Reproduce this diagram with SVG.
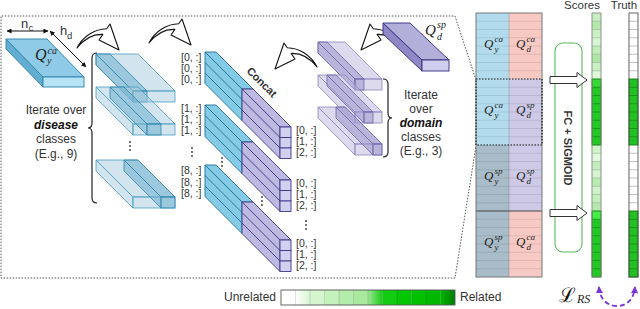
<svg xmlns="http://www.w3.org/2000/svg" width="640" height="309" viewBox="0 0 640 309">
<defs>
<style>
.t{font-family:"Liberation Sans",Arial,sans-serif;fill:#333}
.m{font-family:"Liberation Serif","Times New Roman",serif;font-style:italic;fill:#222}
.idx{font-size:10.5px}
.lbl{font-size:12px}
.bi{font-weight:bold;font-style:italic;fill:#111}
.dt{fill:#333}
.cv{fill:#fff;stroke:#111;stroke-width:1.1;stroke-linejoin:round}
.dsl{fill:#a6cadb;fill-opacity:.5;stroke:#4b9dc2;stroke-width:.8}
.dsc{fill:#6fb0d0;fill-opacity:.55;stroke:#3487ad;stroke-width:.8}
.msl{fill:#b9b5d9;fill-opacity:.5;stroke:#8a85c0;stroke-width:.8}
.msc{fill:#9c97cc;fill-opacity:.55;stroke:#6e68ad;stroke-width:.8}
.cb{fill:#86cbe6;stroke:#1f6f96;stroke-width:.9}
.cl{fill:#bdb9e0;stroke:#3e3888;stroke-width:.9}
.cf{fill:#d2d0ef;stroke:#3e3888;stroke-width:.9}
.rows{stroke:#000;stroke-opacity:.13;stroke-width:.7;fill:none}
</style>
<path id="cva" d="M0,22 C6,10 18,3 29.7,2.8 L33,-2 L42,24 L22,14 L25.85,8.4 C16,8 7,13 0,22 Z"/>
<g id="dslab">
<polygon points="0,0 42,0 79,37 37,37"/>
<polygon points="0,0 37,37 37,48 0,11"/>
<rect x="37" y="37" width="42" height="11"/>
</g>
<g id="dslice">
<polygon points="0,0 14,0 51,37 37,37"/>
<polygon points="0,0 37,37 37,48 0,11"/>
<rect x="37" y="37" width="14" height="11"/>
</g>
<g id="mslab">
<polygon points="0,0 27,0 64,37 37,37"/>
<polygon points="0,0 37,37 37,48 0,11"/>
<rect x="37" y="37" width="27" height="11"/>
</g>
<g id="mslice">
<polygon points="0,0 9,0 46,37 37,37"/>
<polygon points="0,0 37,37 37,48 0,11"/>
<rect x="37" y="37" width="9" height="11"/>
</g>
<g id="cstack">
<polygon class="cb" points="0,0 37,37 37,68.5 0,31.5"/>
<polygon class="cb" points="0,0 11,0 48,37 37,37"/>
<path d="M0,10.5 L37,47.5 M0,21 L37,58" stroke="#1f6f96" stroke-width=".9"/>
<polygon class="cl" points="37,37 75,75 75,106.5 37,68.5"/>
<polygon class="cl" points="37,37 48,37 86,75 75,75"/>
<path d="M37,47.5 L75,85.5 M37,58 L75,96" stroke="#3e3888" stroke-width=".9"/>
<rect class="cf" x="75" y="75" width="11" height="10.5"/>
<rect class="cf" x="75" y="85.5" width="11" height="10.5"/>
<rect class="cf" x="75" y="96" width="11" height="10.5"/>
</g>
<marker id="ah" viewBox="0 0 6 6" refX="5.5" refY="3" markerWidth="5" markerHeight="5" orient="auto-start-reverse"><path d="M0,0 L6,3 L0,6 Z" fill="#111"/></marker>
<marker id="pa" viewBox="0 0 8 8" refX="7" refY="4" markerWidth="4" markerHeight="4" orient="auto-start-reverse"><path d="M0,0 L8,4 L0,8 Z" fill="#7b35d8"/></marker>
<linearGradient id="lg2" x1="0" x2="1"><stop offset="0" stop-color="#ffffff"/><stop offset="1" stop-color="#d6f5d0"/></linearGradient>
<linearGradient id="lg7" x1="0" x2="1"><stop offset="0" stop-color="#9ee698"/><stop offset="1" stop-color="#14cc14"/></linearGradient>
<linearGradient id="lg12" x1="0" x2="1"><stop offset="0" stop-color="#00b800"/><stop offset="1" stop-color="#007a00"/></linearGradient>
</defs>

<!-- dotted expansion frame -->
<g id="frame" fill="none" stroke="#555" stroke-width="1" stroke-dasharray="1.5,1.5">
<path d="M476,80 L455,16 H1 V278 H455 L476,146"/>
</g>

<!-- Q_y^ca slab -->
<g id="qyca">
<polygon points="6,39 43,77 43,87 6,49" fill="#63aed0" stroke="#2b83ab" stroke-width=".9"/>
<polygon points="6,39 47,39 84,77 43,77" fill="#8fcbe6" stroke="#2b83ab" stroke-width=".9"/>
<rect x="43" y="77" width="41" height="10" fill="#b6e2f5" stroke="#2b83ab" stroke-width=".9"/>
<text class="m" x="35" y="60" font-size="16">Q</text>
<text class="m" x="47.5" y="54" font-size="10">ca</text>
<text class="m" x="47" y="64" font-size="10">y</text>
</g>

<g id="dims">
<line x1="7" y1="31" x2="48" y2="31" stroke="#111" stroke-width="1" marker-start="url(#ah)" marker-end="url(#ah)"/>
<line x1="50" y1="31" x2="86" y2="67" stroke="#111" stroke-width="1" marker-start="url(#ah)" marker-end="url(#ah)"/>
<text class="t" x="21" y="28" font-size="13">n</text>
<text class="t" x="28.5" y="31" font-size="9.5">c</text>
<text class="t" x="60" y="35" font-size="13">h</text>
<text class="t" x="67" y="39" font-size="9.5">d</text>
</g>

<!-- curved arrows -->
<g id="curved-arrows">
<use href="#cva" class="cv" transform="translate(77,26)"/>
<use href="#cva" class="cv" transform="translate(149,21)"/>
<use href="#cva" class="cv" transform="translate(317,45) scale(-1,1)"/>
<use href="#cva" class="cv" transform="translate(403,26) scale(-1,1)"/>
</g>

<!-- disease iteration -->
<g id="disease-iter">
<path d="M97,53 Q92,53 92,58 V123 Q92,128 88,128 Q92,128 92,133 V198 Q92,203 97,203" fill="none" stroke="#222" stroke-width="1.2"/>
<g transform="translate(96,54)"><use href="#dslab" class="dsl"/><use href="#dslice" class="dsc"/></g>
<g transform="translate(96,87)"><use href="#dslab" class="dsl"/><use href="#dslice" class="dsc" x="14"/></g>
<g transform="translate(96,160)"><use href="#dslab" class="dsl"/><use href="#dslice" class="dsc" x="28"/></g>
<circle class="dt" cx="130" cy="142" r=".9"/><circle class="dt" cx="130" cy="146" r=".9"/><circle class="dt" cx="130" cy="150" r=".9"/>
<text class="t lbl" x="56" y="114" text-anchor="middle">Iterate over</text>
<text class="t lbl bi" x="56" y="128.5" text-anchor="middle">disease</text>
<text class="t lbl" x="56" y="143" text-anchor="middle">classes</text>
<text class="t lbl" x="56" y="157.5" text-anchor="middle">(E.g., 9)</text>
</g>

<g id="disease-index" class="t idx">
<text x="181" y="61">[0, :]</text><text x="181" y="72">[0, :]</text><text x="181" y="83">[0, :]</text>
<text x="181" y="112">[1, :]</text><text x="181" y="123">[1, :]</text><text x="181" y="134">[1, :]</text>
<text x="181" y="174">[8, :]</text><text x="181" y="185.5">[8, :]</text><text x="181" y="197">[8, :]</text>
</g>
<g id="disease-index-dots">
<circle class="dt" cx="192" cy="148" r=".9"/><circle class="dt" cx="192" cy="152" r=".9"/><circle class="dt" cx="192" cy="156" r=".9"/>
</g>

<!-- concatenated stacks -->
<g id="concat">
<use href="#cstack" transform="translate(205,52)"/>
<use href="#cstack" transform="translate(205,105)"/>
<use href="#cstack" transform="translate(205,165)"/>
<text class="t" x="262" y="86" font-size="11" font-weight="bold" fill="#111" text-anchor="middle" transform="rotate(45 262 82)">Concat</text>
<circle class="dt" cx="222" cy="158" r=".9"/><circle class="dt" cx="222" cy="162" r=".9"/><circle class="dt" cx="222" cy="166" r=".9"/>
<circle class="dt" cx="262" cy="197" r=".9"/><circle class="dt" cx="262" cy="201" r=".9"/><circle class="dt" cx="262" cy="205" r=".9"/>
<circle class="dt" cx="306" cy="221" r=".9"/><circle class="dt" cx="306" cy="225" r=".9"/><circle class="dt" cx="306" cy="229" r=".9"/>
</g>
<g id="concat-index" class="t idx">
<text x="296" y="134">[0, :]</text><text x="296" y="145">[1, :]</text><text x="296" y="156">[2, :]</text>
<text x="296" y="187">[0, :]</text><text x="296" y="198">[1, :]</text><text x="296" y="209">[2, :]</text>
<text x="296" y="247">[0, :]</text><text x="296" y="258">[1, :]</text><text x="296" y="269">[2, :]</text>
</g>

<!-- Q_d^sp slab -->
<g id="qdsp">
<polygon points="383,23 422,60 422,71 383,34" fill="#8e89c4" stroke="#2f2a7a" stroke-width=".9"/>
<polygon points="383,23 410,23 449,60 422,60" fill="#b3afdb" stroke="#2f2a7a" stroke-width=".9"/>
<rect x="422" y="60" width="27" height="11" fill="#d0ceee" stroke="#2f2a7a" stroke-width=".9"/>
<text class="m" x="425" y="35" font-size="15">Q</text>
<text class="m" x="437" y="28" font-size="10">sp</text>
<text class="m" x="437" y="39.5" font-size="10">d</text>
</g>

<!-- domain iteration -->
<g id="domain-iter">
<g transform="translate(318,42)"><use href="#mslab" class="msl"/><use href="#mslice" class="msc"/></g>
<g transform="translate(318,75)"><use href="#mslab" class="msl"/><use href="#mslice" class="msc" x="9"/></g>
<g transform="translate(318,107)"><use href="#mslab" class="msl"/><use href="#mslice" class="msc" x="18"/></g>
<path d="M383,79 Q388,79 388,84 V113 Q388,118 392,118 Q388,118 388,123 V152 Q388,157 383,157" fill="none" stroke="#222" stroke-width="1.2"/>
<text class="t lbl" x="421" y="99" text-anchor="middle">Iterate</text>
<text class="t lbl" x="421" y="112.5" text-anchor="middle">over</text>
<text class="t lbl bi" x="421" y="126.5" text-anchor="middle">domain</text>
<text class="t lbl" x="421" y="140.5" text-anchor="middle">classes</text>
<text class="t lbl" x="421" y="154.5" text-anchor="middle">(E.g., 3)</text>
</g>

<!-- stacked query matrix -->
<g id="matrix">
<rect x="476" y="13" width="33" height="132" fill="#b2dcee"/>
<rect x="476" y="145" width="33" height="132" fill="#a9bcc9"/>
<rect x="509" y="13" width="33" height="66" fill="#f7c9c3"/>
<rect x="509" y="79" width="33" height="132" fill="#cdc9e6"/>
<rect x="509" y="211" width="33" height="66" fill="#f6c9c4"/>
<path class="rows" d="M476,21.25H542M476,29.5H542M476,37.75H542M476,46H542M476,54.25H542M476,62.5H542M476,70.75H542M476,87.25H542M476,95.5H542M476,103.75H542M476,112H542M476,120.25H542M476,128.5H542M476,136.75H542M476,153.25H542M476,161.5H542M476,169.75H542M476,178H542M476,186.25H542M476,194.5H542M476,202.75H542M476,219.25H542M476,227.5H542M476,235.75H542M476,244H542M476,252.25H542M476,260.5H542M476,268.75H542"/>
<line x1="509" y1="13" x2="509" y2="277" stroke="#000" stroke-opacity=".2" stroke-width=".8"/>
<line x1="476" y1="211" x2="542" y2="211" stroke="#444" stroke-width="1.1"/>
<rect x="476" y="13" width="66" height="264" fill="none" stroke="#777" stroke-width="1"/>
<rect x="476" y="79" width="66" height="66" fill="none" stroke="#111" stroke-width="1.2" stroke-dasharray="1.5,1.5"/>
<g class="m" font-size="13">
<text x="484" y="48">Q</text><text x="494.5" y="42" font-size="9">ca</text><text x="494.5" y="52" font-size="9">y</text>
<text x="516" y="48">Q</text><text x="526.5" y="42" font-size="9">ca</text><text x="526.5" y="52" font-size="9">d</text>
<text x="484" y="114">Q</text><text x="494.5" y="108" font-size="9">ca</text><text x="494.5" y="118" font-size="9">y</text>
<text x="516" y="114">Q</text><text x="526.5" y="108" font-size="9">sp</text><text x="526.5" y="118" font-size="9">d</text>
<text x="484" y="180">Q</text><text x="494.5" y="174" font-size="9">sp</text><text x="494.5" y="184" font-size="9">y</text>
<text x="516" y="180">Q</text><text x="526.5" y="174" font-size="9">sp</text><text x="526.5" y="184" font-size="9">d</text>
<text x="484" y="246">Q</text><text x="494.5" y="240" font-size="9">sp</text><text x="494.5" y="250" font-size="9">y</text>
<text x="516" y="246">Q</text><text x="526.5" y="240" font-size="9">ca</text><text x="526.5" y="250" font-size="9">d</text>
</g>
</g>

<!-- FC + SIGMOID -->
<g id="fc">
<rect x="555" y="43" width="27" height="209" rx="8" fill="#fff" stroke="#5cb85c" stroke-width="1.1"/>
<text class="t" x="568" y="152" font-size="11" font-weight="bold" fill="#111" text-anchor="middle" transform="rotate(90 568 148)">FC + SIGMOID</text>
</g>

<g id="connectors">
<polygon points="550,76.5 577,76.5 577,72.5 587,80 577,87.5 577,83.5 550,83.5" fill="#fff" stroke="#333" stroke-width="1"/>
<polygon points="550,209.5 577,209.5 577,205.5 587,213 577,220.5 577,216.5 550,216.5" fill="#fff" stroke="#333" stroke-width="1"/>
<path d="M599,287 C600,302 610,306 617,306 C626,306 634,300 635,287" fill="none" stroke="#7b35d8" stroke-width="1.8" stroke-dasharray="5,3" marker-start="url(#pa)" marker-end="url(#pa)"/>
</g>

<!-- scores -->
<g id="scores">
<text class="t" x="582" y="9" font-size="11.5" text-anchor="middle">Scores</text>
<rect x="592" y="13" width="9" height="8.25" fill="#c6efbf"/>
<rect x="592" y="21.25" width="9" height="8.25" fill="#b4eaa9"/>
<rect x="592" y="29.5" width="9" height="8.25" fill="#cbf1c4"/>
<rect x="592" y="37.75" width="9" height="8.25" fill="#d9f5d4"/>
<rect x="592" y="46" width="9" height="8.25" fill="#bfeeb7"/>
<rect x="592" y="54.25" width="9" height="8.25" fill="#aee7a4"/>
<rect x="592" y="62.5" width="9" height="8.25" fill="#c8f0c0"/>
<rect x="592" y="70.75" width="9" height="8.25" fill="#def7d9"/>
<rect x="592" y="79" width="9" height="66" fill="#22c922"/>
<rect x="592" y="79" width="9" height="8.25" fill="#36d836"/>
<rect x="592" y="145" width="9" height="8.25" fill="#d0f3ca"/>
<rect x="592" y="153.25" width="9" height="8.25" fill="#e3f9df"/>
<rect x="592" y="161.5" width="9" height="8.25" fill="#c2eebb"/>
<rect x="592" y="169.75" width="9" height="8.25" fill="#d4f4cf"/>
<rect x="592" y="178" width="9" height="8.25" fill="#b8ecb0"/>
<rect x="592" y="186.25" width="9" height="8.25" fill="#cdf2c7"/>
<rect x="592" y="194.5" width="9" height="8.25" fill="#c3efbc"/>
<rect x="592" y="202.75" width="9" height="8.25" fill="#b5eaac"/>
<rect x="592" y="211" width="9" height="66" fill="#22c922"/>
<rect x="592" y="211" width="9" height="8.25" fill="#44ee44"/>
<path d="M592,21.25h9M592,29.5h9M592,37.75h9M592,46h9M592,54.25h9M592,62.5h9M592,70.75h9M592,153.25h9M592,161.5h9M592,169.75h9M592,178h9M592,186.25h9M592,194.5h9M592,202.75h9" stroke="#9ab89a" stroke-width=".7"/>
<path d="M592,87.25h9M592,95.5h9M592,103.75h9M592,112h9M592,120.25h9M592,128.5h9M592,136.75h9M592,219.25h9M592,227.5h9M592,235.75h9M592,244h9M592,252.25h9M592,260.5h9M592,268.75h9" stroke="#118811" stroke-width=".7"/>
<rect x="592" y="79" width="9" height="66" fill="none" stroke="#0f7a0f" stroke-width=".9"/>
<rect x="592" y="211" width="9" height="66" fill="none" stroke="#0f7a0f" stroke-width=".9"/>
<rect x="592" y="13" width="9" height="264" fill="none" stroke="#888" stroke-width=".9"/>
</g>

<!-- truth -->
<g id="truth">
<text class="t" x="624" y="9" font-size="11.5" text-anchor="middle">Truth</text>
<rect x="629" y="13" width="9" height="264" fill="#fff"/>
<rect x="629" y="79" width="9" height="66" fill="#22c022"/>
<rect x="629" y="211" width="9" height="66" fill="#22c022"/>
<path d="M629,21.25h9M629,29.5h9M629,37.75h9M629,46h9M629,54.25h9M629,62.5h9M629,70.75h9M629,153.25h9M629,161.5h9M629,169.75h9M629,178h9M629,186.25h9M629,194.5h9M629,202.75h9" stroke="#aaa" stroke-width=".7"/>
<path d="M629,87.25h9M629,95.5h9M629,103.75h9M629,112h9M629,120.25h9M629,128.5h9M629,136.75h9M629,219.25h9M629,227.5h9M629,235.75h9M629,244h9M629,252.25h9M629,260.5h9M629,268.75h9" stroke="#118811" stroke-width=".7"/>
<rect x="629" y="79" width="9" height="66" fill="none" stroke="#0f7a0f" stroke-width=".9"/>
<rect x="629" y="211" width="9" height="66" fill="none" stroke="#0f7a0f" stroke-width=".9"/>
<rect x="629" y="13" width="9" height="264" fill="none" stroke="#555" stroke-width=".9"/>
</g>

<!-- loss -->
<g id="loss">
<text x="559" y="302" font-family="'DejaVu Serif',serif" font-size="20" fill="#111">ℒ</text>
<text class="m" x="577" y="303" font-size="12" fill="#111">RS</text>
</g>

<!-- legend -->
<g id="legend">
<text class="t lbl" x="276" y="301" text-anchor="end">Unrelated</text>
<rect x="281" y="290" width="14.5" height="15" fill="#fff"/>
<rect x="295.5" y="290" width="14.5" height="15" fill="url(#lg2)"/>
<rect x="310" y="290" width="14.5" height="15" fill="#d4f5ce"/>
<rect x="324.5" y="290" width="14.5" height="15" fill="#c4f1bc"/>
<rect x="339" y="290" width="14.5" height="15" fill="#b4ecab"/>
<rect x="353.5" y="290" width="14.5" height="15" fill="#a8e99e"/>
<rect x="368" y="290" width="14.5" height="15" fill="url(#lg7)"/>
<rect x="382.5" y="290" width="14.5" height="15" fill="#12cc12"/>
<rect x="397" y="290" width="14.5" height="15" fill="#04c704"/>
<rect x="411.5" y="290" width="14.5" height="15" fill="#00c000"/>
<rect x="426" y="290" width="14.5" height="15" fill="#00b800"/>
<rect x="440.5" y="290" width="14.5" height="15" fill="url(#lg12)"/>
<path d="M295.5,290v15M310,290v15M324.5,290v15M339,290v15M353.5,290v15M368,290v15M382.5,290v15M397,290v15M411.5,290v15M426,290v15M440.5,290v15" stroke="#000" stroke-opacity=".18" stroke-width=".7"/>
<rect x="281" y="290" width="174" height="15" fill="none" stroke="#555" stroke-width=".9"/>
<text class="t lbl" x="460" y="301">Related</text>
</g>
</svg>
